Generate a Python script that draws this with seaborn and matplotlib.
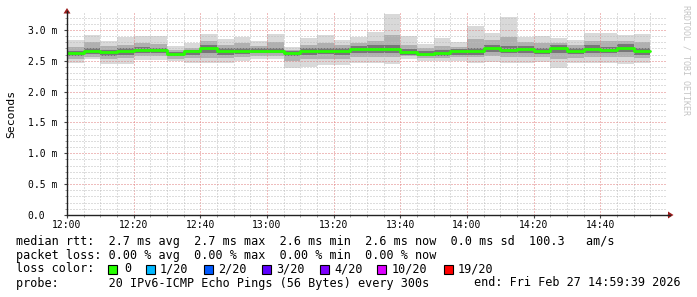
import numpy as np
import pandas as pd
import matplotlib
matplotlib.use("Agg")
import matplotlib.pyplot as plt
from matplotlib.patches import Rectangle, Polygon
from matplotlib.lines import Line2D
import seaborn as sns

# ---------------- data (milliseconds) ----------------
bar_labels = ["12:00", "12:05", "12:10", "12:15", "12:20", "12:25", "12:30", "12:35",
              "12:40", "12:45", "12:50", "12:55", "13:00", "13:05", "13:10", "13:15",
              "13:20", "13:25", "13:30", "13:35", "13:40", "13:45", "13:50", "13:55",
              "14:00", "14:05", "14:10", "14:15", "14:20", "14:25", "14:30", "14:35",
              "14:40", "14:45", "14:50"]
median = [2.62, 2.66, 2.64, 2.66, 2.67, 2.68, 2.61, 2.66, 2.71, 2.66, 2.66, 2.66,
          2.66, 2.62, 2.66, 2.66, 2.66, 2.69, 2.69, 2.69, 2.64, 2.61, 2.62, 2.65,
          2.65, 2.71, 2.68, 2.69, 2.66, 2.70, 2.66, 2.69, 2.67, 2.71, 2.65]
ping_min = [2.47, 2.52, 2.45, 2.44, 2.51, 2.51, 2.49, 2.47, 2.46, 2.46, 2.50, 2.52,
            2.52, 2.38, 2.40, 2.43, 2.43, 2.46, 2.46, 2.44, 2.52, 2.50, 2.50, 2.49,
            2.46, 2.48, 2.46, 2.47, 2.48, 2.38, 2.46, 2.47, 2.46, 2.45, 2.47]
ping_max = [2.83, 2.92, 2.82, 2.88, 2.90, 2.90, 2.74, 2.78, 2.93, 2.85, 2.88, 2.82,
            2.94, 2.72, 2.87, 2.92, 2.83, 2.88, 2.97, 3.26, 2.90, 2.77, 2.87, 2.81,
            3.06, 2.95, 3.21, 2.89, 2.90, 2.87, 2.84, 2.95, 2.95, 2.92, 2.93]
band2_lo = [2.53, 2.56, 2.53, 2.54, 2.57, 2.57, 2.53, 2.54, 2.55, 2.54, 2.56, 2.57,
            2.57, 2.50, 2.52, 2.53, 2.53, 2.56, 2.56, 2.56, 2.57, 2.55, 2.55, 2.56,
            2.56, 2.57, 2.56, 2.56, 2.56, 2.53, 2.55, 2.56, 2.56, 2.56, 2.55]
band2_hi = [2.72, 2.80, 2.74, 2.76, 2.78, 2.77, 2.68, 2.71, 2.82, 2.76, 2.78, 2.74,
            2.80, 2.67, 2.76, 2.78, 2.75, 2.79, 2.82, 2.92, 2.76, 2.70, 2.74, 2.73,
            2.86, 2.83, 2.88, 2.80, 2.79, 2.78, 2.75, 2.82, 2.82, 2.82, 2.80]
band3_lo = [2.58, 2.61, 2.58, 2.60, 2.62, 2.63, 2.57, 2.60, 2.62, 2.60, 2.61, 2.62,
            2.62, 2.57, 2.60, 2.61, 2.60, 2.63, 2.63, 2.63, 2.60, 2.58, 2.58, 2.60,
            2.60, 2.64, 2.62, 2.62, 2.61, 2.63, 2.61, 2.63, 2.62, 2.64, 2.60]
band3_hi = [2.66, 2.70, 2.68, 2.71, 2.72, 2.71, 2.64, 2.68, 2.75, 2.70, 2.71, 2.70,
            2.70, 2.65, 2.71, 2.71, 2.71, 2.74, 2.75, 2.76, 2.69, 2.65, 2.67, 2.69,
            2.71, 2.76, 2.74, 2.74, 2.71, 2.75, 2.71, 2.75, 2.73, 2.77, 2.70]

xtick_labels = ["12:00", "12:20", "12:40", "13:00", "13:20", "13:40", "14:00", "14:20", "14:40"]
ytick_values = [0.0, 0.5, 1.0, 1.5, 2.0, 2.5, 3.0]
ytick_labels = ["0.0", "0.5 m", "1.0 m", "1.5 m", "2.0 m", "2.5 m", "3.0 m"]

loss_labels = ["0", "1/20", "2/20", "3/20", "4/20", "10/20", "19/20"]
loss_colors = ["#26ff00", "#00b8ff", "#0059ff", "#5e00ff", "#7e00ff", "#dd00ff", "#ff0000"]

legend_line1 = "median rtt:  2.7 ms avg  2.7 ms max  2.6 ms min  2.6 ms now  0.0 ms sd  100.3   am/s"
legend_line2 = "packet loss: 0.00 % avg  0.00 % max  0.00 % min  0.00 % now"
legend_line3 = "loss color:"
legend_line4 = "probe:       20 IPv6-ICMP Echo Pings (56 Bytes) every 300s"
end_text = "end: Fri Feb 27 14:59:39 2026"

# ---------------- helpers ----------------
def tmin(s):
    h, m = s.split(":")
    return (int(h) - 12) * 60 + int(m)

df = pd.DataFrame({
    "start": [tmin(s) for s in bar_labels],
    "median": median, "pmin": ping_min, "pmax": ping_max,
    "b2lo": band2_lo, "b2hi": band2_hi, "b3lo": band3_lo, "b3hi": band3_hi,
})

W, H = 697, 297
sns.set_theme(style="white")
plt.rcParams["font.family"] = ["DejaVu Sans Mono", "DejaVu Sans"]

fig = plt.figure(figsize=(W / 100, H / 100), dpi=100)
fig.patch.set_facecolor("white")

px_left, px_right, px_bottom, px_top = 67, 667, 215, 12.6
ax = fig.add_axes([px_left / W, 1 - px_bottom / H, (px_right - px_left) / W, (px_bottom - px_top) / H])
ax.set_facecolor("white")

# smoke bands
for lo, hi, col in [("pmin", "pmax", "#d9d9d9"), ("b2lo", "b2hi", "#b0b0b0"), ("b3lo", "b3hi", "#777777")]:
    ax.bar(df["start"], df[hi] - df[lo], bottom=df[lo], width=5, align="edge",
           color=col, linewidth=0, zorder=1)

# median line (steps)
xs = list(df["start"]) + [df["start"].iloc[-1] + 5]
ys = list(df["median"]) + [df["median"].iloc[-1]]
line_df = pd.DataFrame({"x": xs, "y": ys})
sns.lineplot(data=line_df, x="x", y="y", ax=ax, drawstyle="steps-post",
             color="#26ff00", linewidth=2.0, zorder=4, estimator=None)

ax.set_xlim(0, 180)
ax.set_ylim(0, 3.28)
ax.set_xlabel("")
ax.set_ylabel("")

ax.set_xticks([tmin(s) for s in xtick_labels])
ax.set_xticklabels(xtick_labels)
ax.set_xticks(np.arange(0, 180, 5), minor=True)
ax.set_yticks(ytick_values)
ax.set_yticklabels(ytick_labels)
ax.set_yticks(np.arange(0, 3.28, 0.1), minor=True)

ax.set_axisbelow(False)
ax.grid(which="minor", color="#bdbdbd", linestyle=(0, (1, 2)), linewidth=0.72)
ax.grid(which="major", color="#e07c7c", linestyle=(0, (1, 2)), linewidth=0.72)

ax.tick_params(axis="x", which="major", length=2, width=0.8, color="#444444", pad=1.5,
               labelsize=7.0, labelcolor="#000000", direction="out", bottom=True)
ax.tick_params(axis="x", which="minor", length=1.5, width=0.6, color="#888888", bottom=True)
ax.tick_params(axis="y", which="major", length=2, width=0.8, color="#444444", pad=26.4,
               labelsize=7.0, labelcolor="#000000", direction="out", left=True)
ax.tick_params(axis="y", which="minor", length=1.5, width=0.6, color="#888888", left=True)
for t in ax.get_yticklabels():
    t.set_horizontalalignment("left")

for s in ["top", "right"]:
    ax.spines[s].set_visible(False)
for s in ["left", "bottom"]:
    ax.spines[s].set_color("#222222")
    ax.spines[s].set_linewidth(1.0)
    ax.spines[s].set_zorder(5)

# axis extensions and arrows (figure pixel coords)
def fx(x):
    return x / W

def fy(y):
    return 1 - y / H

fig.add_artist(Line2D([fx(px_right), fx(670)], [fy(215), fy(215)], color="#222222", lw=1.0))
fig.add_artist(Line2D([fx(67), fx(67)], [fy(px_top), fy(11)], color="#222222", lw=1.0))
fig.add_artist(Polygon([(fx(668), fy(211.5)), (fx(673.5), fy(215)), (fx(668), fy(218.5))],
                       closed=True, color="#9b1c1c", lw=0))
fig.add_artist(Polygon([(fx(63.5), fy(13.5)), (fx(67), fy(8)), (fx(70.5), fy(13.5))],
                       closed=True, color="#9b1c1c", lw=0))

# y label and watermark
fig.text(fx(11), fy(114), "Seconds", rotation=90, ha="center", va="center",
         fontsize=8.2, color="#000000")
fig.text(fx(686), fy(60), "RRDTOOL / TOBI OETIKER", rotation=270, ha="center", va="center",
         fontsize=6.0, color="#c4c4c4")

# legend
lfs = 8.5
fig.text(fx(16), fy(241), legend_line1, ha="left", va="center", fontsize=lfs, color="#000000")
fig.text(fx(16), fy(255), legend_line2, ha="left", va="center", fontsize=lfs, color="#000000")
fig.text(fx(16), fy(269), legend_line3, ha="left", va="center", fontsize=lfs, color="#000000")
fig.text(fx(16), fy(283), legend_line4, ha="left", va="center", fontsize=lfs, color="#000000")
fig.text(fx(681), fy(283), end_text, ha="right", va="center", fontsize=lfs, color="#000000")

sq_x = [108, 146, 204, 262, 319.5, 377, 443.5]
lab_x = [124, 160, 218.5, 276, 334, 391.5, 457.5]
for sx, lx, lab, col in zip(sq_x, lab_x, loss_labels, loss_colors):
    fig.add_artist(Rectangle((fx(sx), fy(274)), 9 / W, 9 / H, facecolor=col,
                             edgecolor="#000000", lw=0.8))
    fig.text(fx(lx), fy(269), lab, ha="left", va="center", fontsize=lfs, color="#000000")

fig.savefig("out.png", dpi=100, facecolor="white")
